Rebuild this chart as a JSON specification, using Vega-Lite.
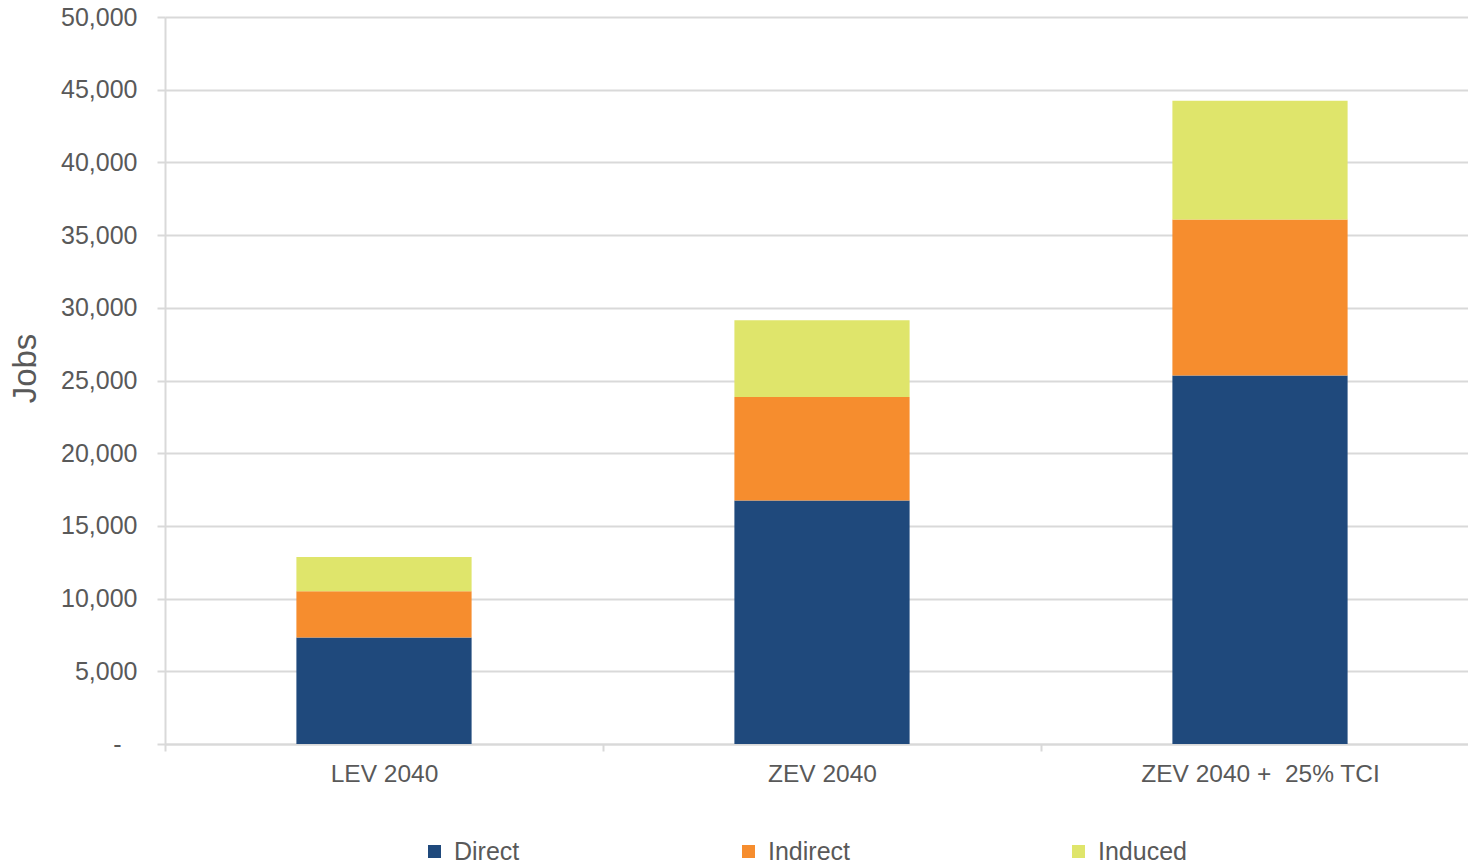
{
  "$schema": "https://vega.github.io/schema/vega-lite/v6.json",
  "autosize": {"type": "none"},
  "padding": {"left": 165, "top": 17, "right": 0, "bottom": 119},
  "width": 1314,
  "height": 727,
  "background": "white",
  "config": {
    "font": "Liberation Sans",
    "view": {"stroke": null},
    "axis": {
      "labelColor": "#595959",
      "titleColor": "#595959",
      "labelFont": "Liberation Sans",
      "titleFont": "Liberation Sans",
      "gridColor": "#d9d9d9",
      "gridWidth": 2,
      "domainColor": "#d9d9d9",
      "domainWidth": 2,
      "tickColor": "#d9d9d9",
      "tickWidth": 2
    }
  },
  "data": {
    "values": [
      {"scenario": "LEV 2040", "type": "Direct", "jobs": 7330},
      {"scenario": "LEV 2040", "type": "Indirect", "jobs": 3170},
      {"scenario": "LEV 2040", "type": "Induced", "jobs": 2360},
      {"scenario": "ZEV 2040", "type": "Direct", "jobs": 16740},
      {"scenario": "ZEV 2040", "type": "Indirect", "jobs": 7130},
      {"scenario": "ZEV 2040", "type": "Induced", "jobs": 5280},
      {"scenario": "ZEV 2040 + \u00a025% TCI", "type": "Direct", "jobs": 25340},
      {"scenario": "ZEV 2040 + \u00a025% TCI", "type": "Indirect", "jobs": 10740},
      {"scenario": "ZEV 2040 + \u00a025% TCI", "type": "Induced", "jobs": 8160}
    ]
  },
  "mark": {"type": "bar", "width": {"band": 0.4}},
  "encoding": {
    "x": {
      "field": "scenario",
      "type": "nominal",
      "sort": null,
      "scale": {"paddingInner": 0, "paddingOuter": 0},
      "axis": {
        "title": null,
        "labelAngle": 0,
        "labelFontSize": 24.5,
        "labelPadding": 11,
        "labelLimit": 500,
        "labelOverlap": false,
        "tickBand": "extent",
        "tickSize": 7,
        "grid": false
      }
    },
    "y": {
      "field": "jobs",
      "type": "quantitative",
      "aggregate": "sum",
      "stack": "zero",
      "scale": {"domain": [0, 50000], "nice": false},
      "axis": {
        "title": "Jobs",
        "titleFontSize": 33,
        "titleFontWeight": "normal",
        "titlePadding": 18,
        "titleY": 351,
        "labelFontSize": 25,
        "labelPadding": {"condition": {"test": "datum.value === 0", "value": 36}, "value": 20},
        "labelOverlap": false,
        "tickSize": 8,
        "values": [0, 5000, 10000, 15000, 20000, 25000, 30000, 35000, 40000, 45000, 50000],
        "labelExpr": "datum.value === 0 ? '-' : format(datum.value, ',')"
      }
    },
    "color": {
      "field": "type",
      "type": "nominal",
      "sort": ["Direct", "Indirect", "Induced"],
      "scale": {
        "domain": ["Direct", "Indirect", "Induced"],
        "range": ["#1f497c", "#f68d2e", "#dfe56b"]
      },
      "legend": {
        "title": null,
        "orient": "none",
        "direction": "horizontal",
        "legendX": 257,
        "legendY": 822,
        "symbolType": "square",
        "symbolSize": 169,
        "symbolStrokeWidth": 0,
        "symbolOpacity": 1,
        "labelFontSize": 25,
        "labelColor": "#595959",
        "labelOffset": 7,
        "labelLimit": 300,
        "gridAlign": "none",
        "columnPadding": 216
      }
    },
    "order": {"field": "type", "sort": "ascending"}
  }
}
